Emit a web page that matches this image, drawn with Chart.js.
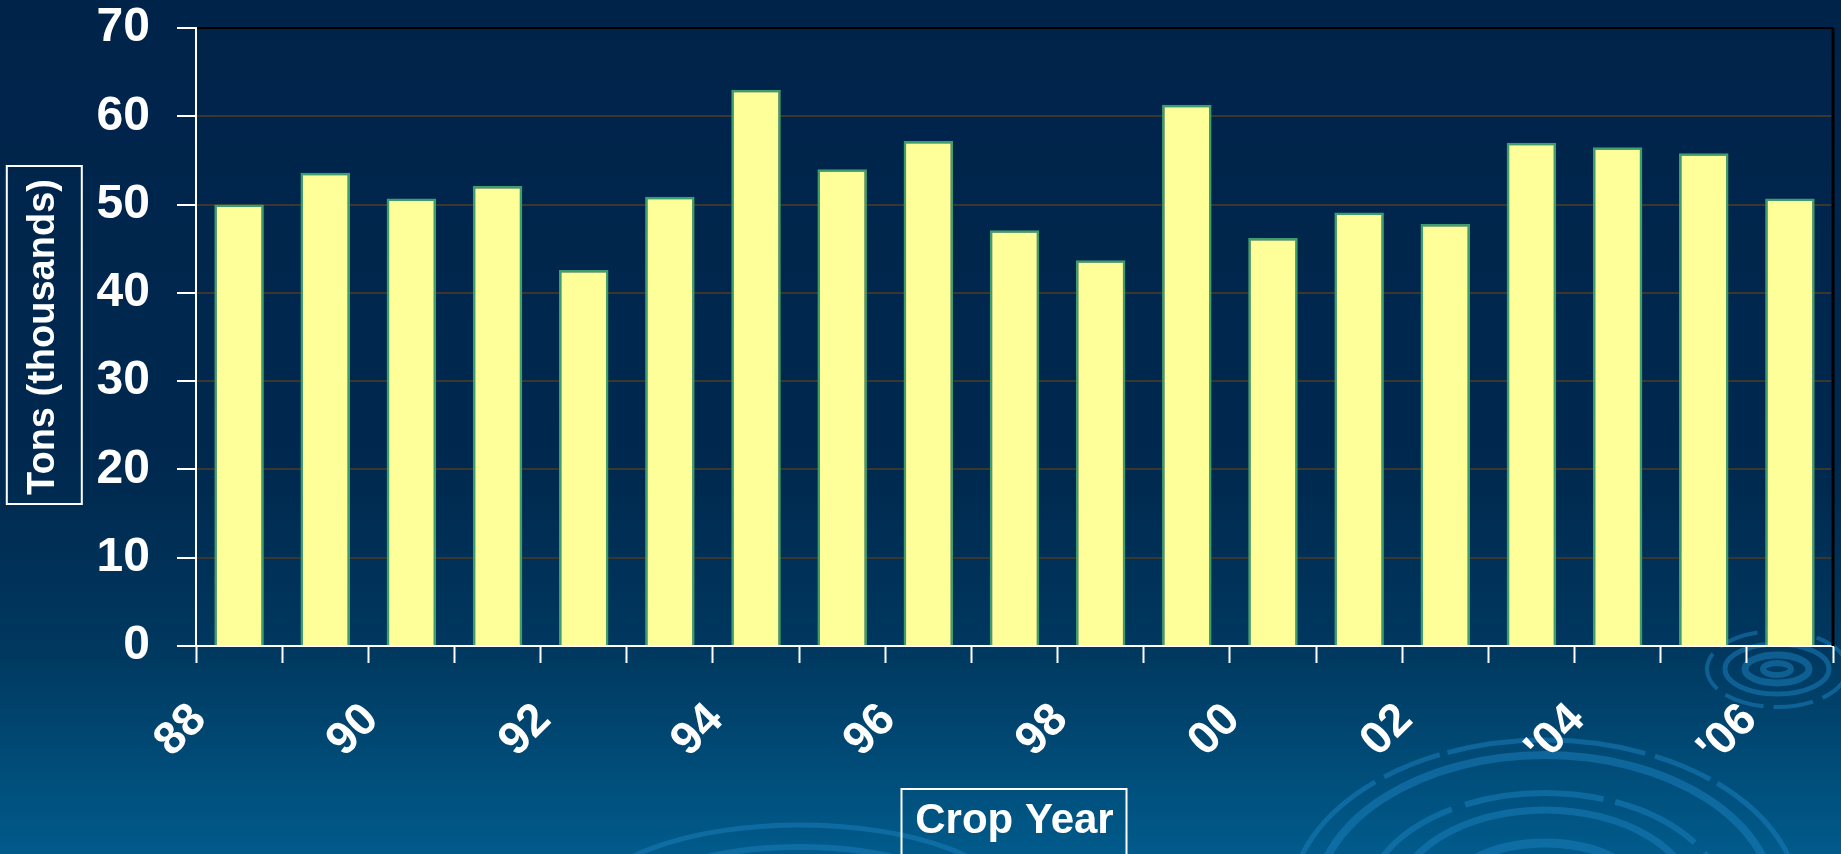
<!DOCTYPE html>
<html>
<head>
<meta charset="utf-8">
<script src="https://cdn.jsdelivr.net/npm/chart.js@4.4.0/dist/chart.umd.min.js"></script>
<style>
  html, body { margin: 0; padding: 0; background: #00234a; overflow: hidden; }
</style>
</head>
<body>
<canvas id="crop-chart" width="1841" height="854"></canvas>
<script>
// Crop years and tonnage (thousands of tons)
const cropYears = ['88', '89', '90', '91', '92', '93', '94', '95', '96', '97', '98', '99',
    '00', '01', '02', '03', "'04", "'05", "'06"];
const tons = [50.0, 53.6, 50.7, 52.1, 42.6, 50.9, 63.0, 54.0, 57.2, 47.1, 43.7, 61.3,
    46.2, 49.1, 47.8, 57.0, 56.5, 55.8, 50.7];
const yTickValues = [0, 10, 20, 30, 40, 50, 60, 70];

const FONT = "'Liberation Sans', Arial, sans-serif";

// Ellipse helper for the water ripples in the backdrop
function ring(ctx, cx, cy, rx, ry, width, dash) {
    ctx.lineWidth = width;
    ctx.setLineDash(dash || []);
    ctx.beginPath();
    ctx.ellipse(cx, cy, rx, ry, 0, 0, Math.PI * 2);
    ctx.stroke();
}

// Gradient background plus ripples
const backdrop = {
    id: 'backdrop',
    beforeDraw(chart) {
        const { ctx, width, height } = chart;
        ctx.save();
        const g = ctx.createLinearGradient(0, 0, 0, height);
        g.addColorStop(0, '#00234a');
        g.addColorStop(0.55, '#00294f');
        g.addColorStop(0.76, '#00385f');
        g.addColorStop(1, '#005b8b');
        ctx.fillStyle = g;
        ctx.fillRect(0, 0, width, height);

        ctx.strokeStyle = 'rgba(25, 125, 185, 0.55)';
        // big ripple bottom right
        ring(ctx, 1545, 905, 255, 165, 5, [60, 8, 200, 10]);
        ring(ctx, 1545, 905, 230, 150, 8);
        ring(ctx, 1545, 905, 180, 112, 6, [90, 14, 140, 12]);
        ring(ctx, 1545, 905, 150, 95, 7);
        ring(ctx, 1545, 905, 105, 62, 9);
        // small ripple under the last bar
        ring(ctx, 1777, 669, 14, 6, 6);
        ring(ctx, 1777, 669, 32, 14, 7);
        ring(ctx, 1777, 669, 52, 25, 5);
        ring(ctx, 1777, 669, 70, 38, 4, [40, 10]);
        // faint ripple under the x title
        ring(ctx, 800, 905, 210, 80, 5);
        ring(ctx, 800, 905, 165, 58, 6);
        ctx.restore();
    }
};

// Boxes round the axis titles, black plot frame on the right
const frames = {
    id: 'frames',
    afterDraw(chart) {
        const { ctx, chartArea, scales } = chart;
        ctx.save();
        ctx.strokeStyle = '#000000';
        ctx.lineWidth = 3;
        ctx.beginPath();
        ctx.moveTo(chartArea.right, chartArea.top);
        ctx.lineTo(chartArea.right, chartArea.bottom);
        ctx.stroke();

        ctx.strokeStyle = '#ffffff';
        ctx.lineWidth = 2;
        const y = scales.y;
        const ycx = y.left + 21 + 38 * 1.2 / 2;
        const ycy = (y.top + y.bottom) / 2;
        ctx.strokeRect(ycx - 37, ycy - 171, 75, 338);

        const x = scales.x;
        const xcx = (x.left + x.right) / 2;
        ctx.strokeRect(xcx - 113, 789, 225, 90);
        ctx.restore();
    }
};

const ctx = document.getElementById('crop-chart').getContext('2d');
const cropChart = new Chart(ctx, {
    type: 'bar',
    data: {
        labels: cropYears,
        datasets: [{
            label: 'Tons (thousands)',
            data: tons,
            backgroundColor: '#ffff99',
            borderColor: '#3f9c6c',
            borderWidth: 2.5,
            borderSkipped: 'bottom',
            barPercentage: 0.575,
            categoryPercentage: 1,
        }],
    },
    options: {
        responsive: false,
        animation: false,
        layout: { padding: { top: 0, right: 8, bottom: 0, left: 0 } },
        plugins: {
            legend: { display: false },
            tooltip: { enabled: false },
        },
        scales: {
            x: {
                afterFit: (scale) => {
                    scale.height = 208;
                    scale.paddingLeft = 0;
                    scale.paddingRight = 0;
                },
                grid: {
                    display: true,
                    offset: true,
                    drawOnChartArea: false,
                    tickLength: 17,
                    tickColor: '#ffffff',
                    tickWidth: 2,
                },
                border: { color: '#ffffff', width: 2 },
                ticks: {
                    color: '#ffffff',
                    font: { family: FONT, size: 46, weight: 'bold' },
                    minRotation: 45,
                    maxRotation: 45,
                    autoSkip: false,
                    padding: 30,
                    labelOffset: -40,
                    callback: (value, index) => (index % 2 === 0 ? cropYears[index] : ''),
                },
                title: {
                    display: true,
                    text: 'Crop Year',
                    color: '#ffffff',
                    font: { family: FONT, size: 42, weight: 'bold' },
                    padding: { top: 0, bottom: 7 },
                },
            },
            y: {
                min: 0,
                max: 70,
                afterFit: (scale) => {
                    scale.width = 196;
                    scale.paddingTop = 28;
                    scale.paddingBottom = 0;
                },
                afterBuildTicks: (scale) => {
                    scale.ticks = yTickValues.map((v) => ({ value: v }));
                },
                grid: {
                    color: (c) => (c.tick && c.tick.value === 70 ? '#000000' : '#3a372e'),
                    lineWidth: 2,
                    tickLength: 19,
                    tickColor: '#ffffff',
                    tickWidth: 2,
                },
                border: { color: '#ffffff', width: 2 },
                ticks: {
                    color: '#ffffff',
                    font: { family: FONT, size: 48, weight: 'bold' },
                    padding: 27,
                },
                title: {
                    display: true,
                    text: 'Tons (thousands)',
                    color: '#ffffff',
                    font: { family: FONT, size: 38, weight: 'bold' },
                    padding: { top: 21, bottom: 0 },
                },
            },
        },
    },
    plugins: [backdrop, frames],
});
</script>
</body>
</html>
